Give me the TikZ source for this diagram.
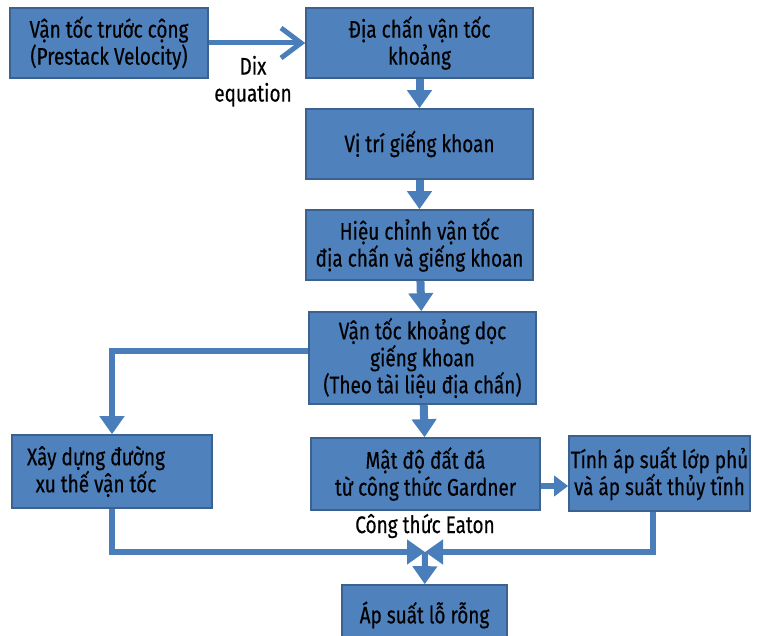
\documentclass[tikz,border=0pt]{standalone}
\usepackage{fontspec}
\setmainfont{Fira Sans}[FakeStretch=0.79, FakeBold=0.4]
\usetikzlibrary{arrows.meta}

\definecolor{boxfill}{HTML}{4F81BD}
\definecolor{boxedge}{HTML}{3A6190}
\definecolor{flowline}{HTML}{4A7EBB}

\begin{document}
\begin{tikzpicture}[x=1pt, y=-1pt,
  block/.style={rectangle, draw=boxedge, fill=boxfill, line width=1.6pt, align=center, inner sep=1pt, font=\fontsize{24}{27}\selectfont},
  step line/.style={draw=flowline, line width=8pt, -{Triangle[width=24pt, length=18pt]}},
  join line/.style={draw=flowline, line width=6pt},
  note/.style={font=\fontsize{24}{27}\selectfont, align=center}
]
\useasboundingbox (0,0) rectangle (757,636);

\node [block, minimum width=198pt, minimum height=70pt] (prestack) at (109,43) {Vận tốc trước cộng\\(Prestack Velocity)};
\node [block, minimum width=227pt, minimum height=70pt] (interval) at (419.5,43) {Địa chấn vận tốc\\khoảng};
\node [block, minimum width=227pt, minimum height=70pt] (well) at (419.5,144) {Vị trí giếng khoan};
\node [block, minimum width=227pt, minimum height=70pt] (calib) at (419.5,245) {Hiệu chỉnh vận tốc\\địa chấn và giếng khoan};
\node [block, minimum width=227pt, minimum height=92pt] (alongwell) at (422.5,358) {Vận tốc khoảng dọc\\giếng khoan\\(Theo tài liệu địa chấn)};
\node [block, minimum width=229pt, minimum height=72pt] (density) at (425.5,474) {Mật độ đất đá\\từ công thức Gardner};
\node [block, minimum width=181pt, minimum height=75pt] (overburden) at (659.5,473.5) {Tính áp suất lớp phủ\\và áp suất thủy tĩnh};
\node [block, minimum width=200pt, minimum height=73pt] (trend) at (112,471.5) {Xây dựng đường\hspace*{32pt}\\xu thế vận tốc\hspace*{32pt}};
\node [block, minimum width=165pt, minimum height=60pt] (pore) at (424.5,615) {Áp suất lỗ rỗng};

\coordinate (eaton) at (425,552);

% Dix conversion
\draw [draw=flowline, line width=5pt, -{Straight Barb[length=20pt, width=30pt]}] (prestack) -- node[note, below=7pt, xshift=-4pt] {Dix\\equation} (interval);

\path [step line] (interval) -- (well);
\path [step line] (well) -- (calib);
\path [step line] (calib) -- (alongwell);
\path [step line] (alongwell) -- (density);
\path [join line, -{Triangle[width=24pt, length=18pt]}] ([yshift=7pt]alongwell.west) -| (trend.north);
\path [join line, -{Triangle[width=20pt, length=14pt]}] ([yshift=-12pt]density.east) -- ([yshift=-12pt]density.east -| overburden.west);

% Eaton
\path [join line, -{Triangle[width=24pt, length=18pt]}] (trend.south) |- (eaton);
\path [join line, -{Triangle[width=24pt, length=18pt]}] ([xshift=-7pt]overburden.south) |- (eaton);
\node [note] (eatonlabel) at (425,526) {Công thức Eaton};
\path [join line, -{Triangle[width=24pt, length=18pt]}] (eaton) -- (pore);
\end{tikzpicture}
\end{document}
